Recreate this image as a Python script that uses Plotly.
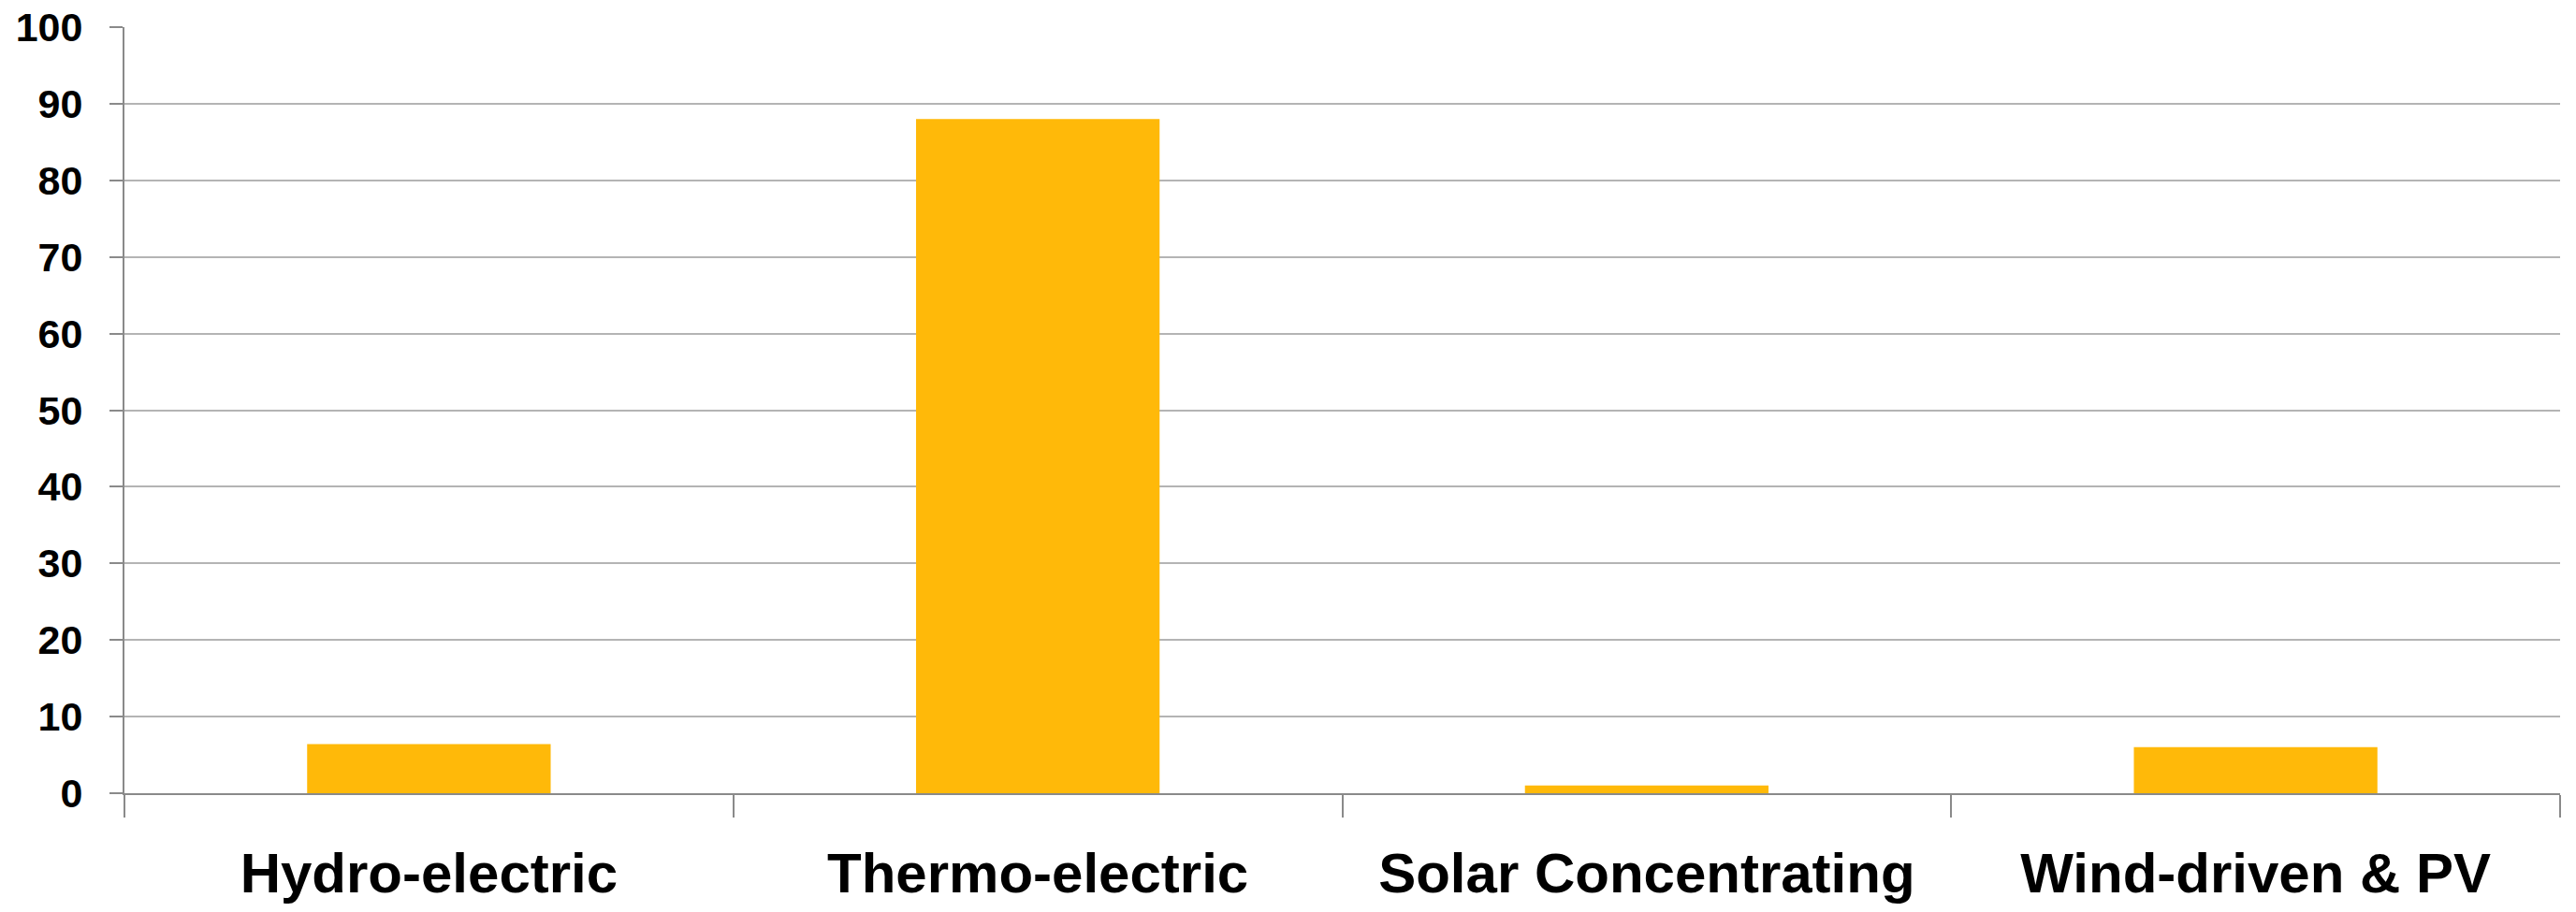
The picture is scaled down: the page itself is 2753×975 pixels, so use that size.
import plotly.graph_objects as go

# Share of generation by source (%)
categories = ["Hydro-electric", "Thermo-electric", "Solar Concentrating", "Wind-driven & PV"]
values = [6.4, 88.0, 1.0, 6.0]
y_ticks = [0, 10, 20, 30, 40, 50, 60, 70, 80, 90, 100]

FONT = "Liberation Sans, Arial, sans-serif"

fig = go.Figure(
    go.Bar(
        x=categories,
        y=values,
        width=0.4,
        marker=dict(color="#FFB909", line=dict(width=0)),
        hoverinfo="x+y",
    )
)

fig.update_layout(
    width=2753,
    height=975,
    margin=dict(l=133, r=17, t=29, b=127),
    paper_bgcolor="white",
    plot_bgcolor="white",
    showlegend=False,
    font=dict(family=FONT, color="black"),
)

fig.update_xaxes(
    type="category",
    tickson="boundaries",
    ticks="outside",
    ticklen=24,
    tickwidth=2,
    tickcolor="#8a8a8a",
    showline=True,
    linecolor="#8a8a8a",
    linewidth=2,
    showgrid=False,
    tickangle=0,
    automargin=False,
    tickfont=dict(family=FONT, size=60, color="black", weight="bold"),
    ticklabelstandoff=32,
)

fig.update_yaxes(
    range=[0, 100],
    tickvals=y_ticks,
    ticks="outside",
    ticklen=14,
    tickwidth=2,
    tickcolor="#8a8a8a",
    showline=True,
    linecolor="#8a8a8a",
    linewidth=2,
    showgrid=True,
    gridcolor="#b4b4b4",
    gridwidth=2,
    zeroline=False,
    automargin=False,
    tickfont=dict(family=FONT, size=43, color="black", weight="bold"),
    ticklabelstandoff=20,
)

fig.write_html("out.html")
